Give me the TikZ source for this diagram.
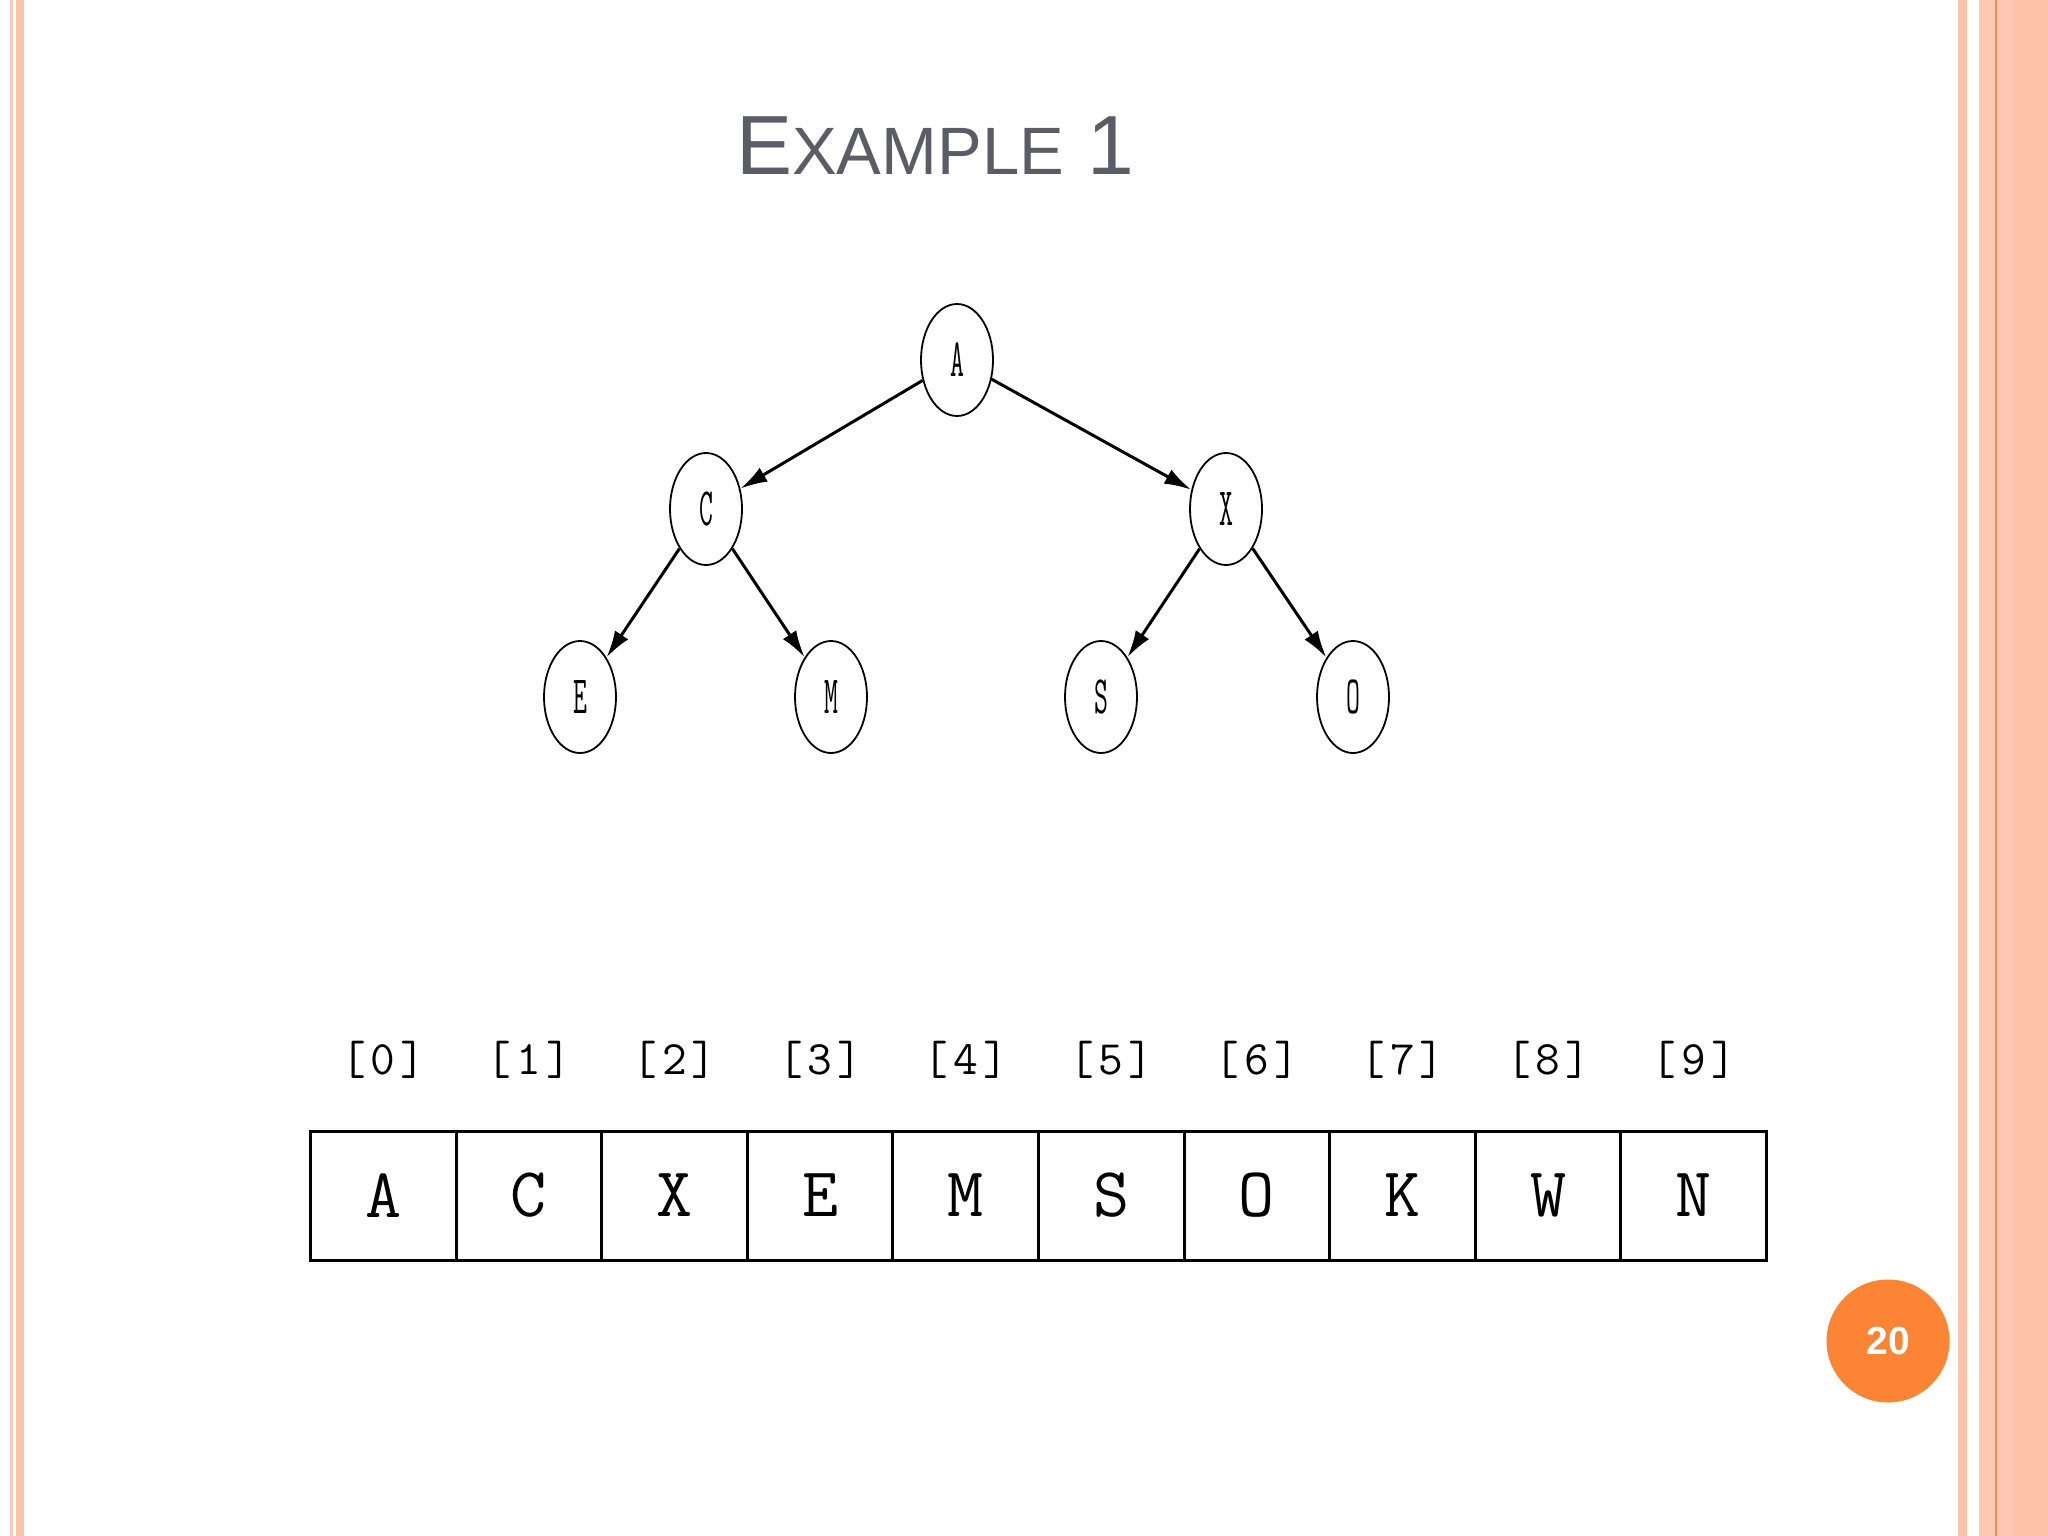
\documentclass[tikz,border=0pt]{standalone}
\usepackage{fontspec}
\usepackage{graphicx}
\setmainfont{Liberation Sans}
\usetikzlibrary{shapes.geometric,arrows.meta}
\definecolor{titlegray}{HTML}{5A5C66}
\definecolor{stripeA}{HTML}{F7C9BC}
\definecolor{stripeB}{HTML}{FFC2AA}
\definecolor{stripeC}{HTML}{FFC8B2}
\definecolor{stripeD}{HTML}{F58A50}
\definecolor{pageorange}{HTML}{FC8535}
\tikzset{
  treenode/.style={ellipse, draw=black, line width=1.8pt, minimum width=72pt, minimum height=112pt, inner sep=0pt,
    font=\ttfamily\fontsize{54}{54}\selectfont},
  treeedge/.style={line width=3pt, -{Latex[length=27pt,width=16pt]}},
  cellbox/.style={rectangle, draw=black, line width=3pt, minimum width=145.6pt, minimum height=129pt, inner sep=0pt,
    font=\ttfamily\fontsize{70}{70}\selectfont},
  idxlabel/.style={inner sep=0pt, font=\ttfamily\fontsize{48}{48}\selectfont},
}
\newcommand{\tl}[1]{\scalebox{0.5}[1]{#1}}
\begin{document}
\begin{tikzpicture}[x=1pt,y=-1pt]
\useasboundingbox (0,0) rectangle (2048,1536);
\fill[white] (0,0) rectangle (2048,1536);
% left border stripes
\fill[stripeA] (10,0) rectangle (13,1536);
\fill[stripeB] (16,0) rectangle (24,1536);
% right border stripes
\fill[stripeB] (1958,0) rectangle (1967,1536);
\fill[stripeC] (1979,0) rectangle (1995,1536);
\fill[stripeD] (1995,0) rectangle (1997,1536);
\fill[stripeC] (1997,0) rectangle (2013,1536);
\fill[stripeB] (2013,0) rectangle (2048,1536);
% title
\node[anchor=base west, text=titlegray, inner sep=0pt] (title) at (736,175)
  {{\fontsize{84}{84}\selectfont E}{\fontsize{67}{67}\selectfont XAMPLE}{\fontsize{84}{84}\selectfont\ 1}};
% tree
\node[treenode] (A) at (957,360) {\tl{A}};
\node[treenode] (C) at (706,509) {\tl{C}};
\node[treenode] (X) at (1226,509) {\tl{X}};
\node[treenode] (E) at (580,697) {\tl{E}};
\node[treenode] (M) at (831,697) {\tl{M}};
\node[treenode] (S) at (1101,697) {\tl{S}};
\node[treenode] (O) at (1353,697) {\tl{O}};
\draw[treeedge] (A) -- (C);
\draw[treeedge] (A) -- (X);
\draw[treeedge] (C) -- (E);
\draw[treeedge] (C) -- (M);
\draw[treeedge] (X) -- (S);
\draw[treeedge] (X) -- (O);
% array
\foreach \i/\t in {0/A,1/C,2/X,3/E,4/M,5/S,6/O,7/K,8/W,9/N}{
  \node[cellbox] (c\i) at ({383.3+145.6*\i},1195.5) {\t};
  \node[idxlabel] (i\i) at ({383.3+145.6*\i},1060) {[\hspace{5pt}\i\hspace{5pt}]};
}
% page number
\node[circle, fill=pageorange, minimum size=123pt, inner sep=0pt, text=white,
  font=\bfseries\fontsize{39}{39}\selectfont] (pg) at (1888,1341) {20};
\end{tikzpicture}
\end{document}
